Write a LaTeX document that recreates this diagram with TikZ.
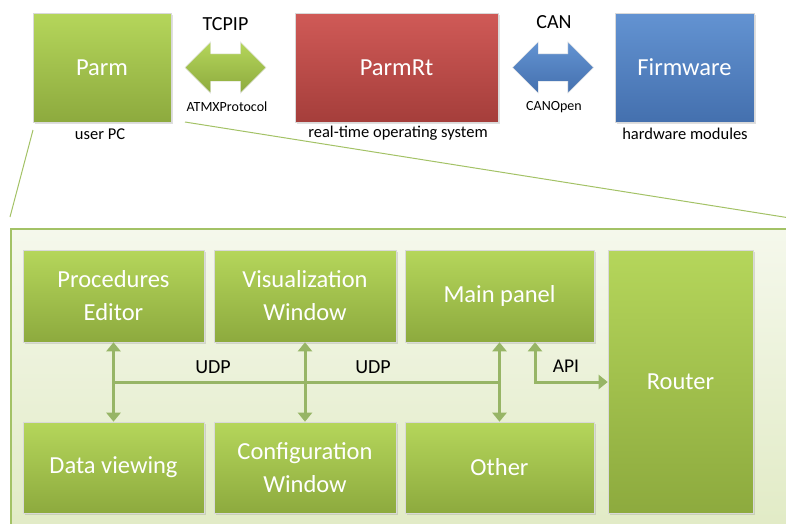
\documentclass[tikz,border=0pt]{standalone}
\usepackage{fontspec}
\setmainfont{Carlito}
\usetikzlibrary{shapes.arrows,shadows,arrows.meta}

\definecolor{grtop}{HTML}{B5D65B}
\definecolor{grbot}{HTML}{8DAA3E}
\definecolor{rdtop}{HTML}{D05A57}
\definecolor{rdbot}{HTML}{A53E3B}
\definecolor{bltop}{HTML}{6393D2}
\definecolor{blbot}{HTML}{4470AE}
\definecolor{conncol}{HTML}{97B566}
\definecolor{framecol}{HTML}{A3C266}
\definecolor{pctop}{HTML}{F5F8EC}
\definecolor{pcbot}{HTML}{E0EAC3}

\begin{document}
\begin{tikzpicture}[x=1pt, y=-1pt,
        box/.style={rectangle, draw=black!15, line width=0.6pt, text=white, align=center,
            font=\fontsize{24.5}{33}\selectfont, inner sep=0pt,
            drop shadow={opacity=0.25, shadow xshift=2pt, shadow yshift=-2pt}},
        green box/.style={box, top color=grtop, bottom color=grbot},
        red box/.style={box, top color=rdtop, bottom color=rdbot},
        blue box/.style={box, top color=bltop, bottom color=blbot},
        fat arrow/.style={double arrow, minimum height=81pt, inner xsep=0pt, inner ysep=13.5pt,
            double arrow head extend=12pt, draw=black!10},
        caption/.style={font=\fontsize{16.5}{19}\selectfont},
        small caption/.style={font=\fontsize{14}{16}\selectfont},
        link/.style={draw=conncol, line width=3pt, arrows={Triangle[width=14pt,length=9pt]-Triangle[width=14pt,length=9pt]}},
        zoom line/.style={draw=framecol, line width=1pt}]

    \clip (0,0) rectangle (786,523);

    % top row
    \node[green box, minimum width=138pt, minimum height=109pt] at (102, 67.5) (parm) {Parm};
    \node[red box, minimum width=203pt, minimum height=109pt] at (396.5, 67.5) (parmrt) {ParmRt};
    \node[blue box, minimum width=139pt, minimum height=109pt] at (684.5, 67.5) (fw) {Firmware};

    \node[fat arrow, top color=grtop, bottom color=grbot] at (225.5, 67.5) (tcp) {};
    \node[fat arrow, top color=bltop, bottom color=blbot] at (553, 67.5) (can) {};

    \node[font=\fontsize{20}{24}\selectfont] at (225.5, 24) (tcplbl) {TCPIP};
    \node[font=\fontsize{20}{24}\selectfont] at (554, 22) (canlbl) {CAN};
    \node[small caption] at (227, 107) (atmx) {ATMXProtocol};
    \node[small caption] at (554, 107) (canopen) {CANOpen};

    \node[caption] at (100, 134) (userpc) {user PC};
    \node[caption] at (398, 133) (rtos) {real-time operating system};
    \node[caption] at (685, 134) (hw) {hardware modules};

    % zoom lines and frame
    \coordinate (z1) at (33, 130);
    \coordinate (z2) at (10, 217);
    \coordinate (z3) at (185, 122);
    \coordinate (z4) at (790, 218);
    \draw[zoom line] (z1) -- (z2);
    \draw[zoom line] (z3) -- (z4);

    \node[rectangle, draw=framecol, line width=1.5pt, top color=pctop, bottom color=pcbot,
        minimum width=790pt, minimum height=320pt, anchor=north west] at (10, 228) (pc) {};

    % inside the user PC
    \node[green box, minimum width=181pt, minimum height=92pt] at (113.5, 296) (pe) {Procedures\\Editor};
    \node[green box, minimum width=182pt, minimum height=92pt] at (305, 296) (vw) {Visualization\\Window};
    \node[green box, minimum width=189pt, minimum height=92pt] at (499.5, 296) (mp) {Main panel};
    \node[green box, minimum width=181pt, minimum height=91pt] at (113.5, 467.5) (dv) {Data viewing};
    \node[green box, minimum width=182pt, minimum height=91pt] at (305, 467.5) (cw) {Configuration\\Window};
    \node[green box, minimum width=189pt, minimum height=91pt] at (499.5, 467.5) (other) {Other};
    \node[green box, minimum width=145pt, minimum height=263pt] at (680.5, 381.5) (router) {Router};

    \coordinate (busl) at (113.5, 382);
    \coordinate (busr) at (499.5, 382);
    \coordinate (api) at (535, 382);

    \draw[draw=conncol, line width=3pt] (busl) -- (busr);
    \path[link] (pe) -- (dv);
    \path[link] (vw) -- (cw);
    \path[link] (mp) -- (other);
    \path[link] (api |- mp.south) -- (api) -- (router.west |- api);

    \node[font=\fontsize{20}{24}\selectfont] at (213, 367) (udp1) {UDP};
    \node[font=\fontsize{20}{24}\selectfont] at (373, 367) (udp2) {UDP};
    \node[font=\fontsize{19.5}{24}\selectfont] at (566, 366) (apilbl) {API};
\end{tikzpicture}
\end{document}
